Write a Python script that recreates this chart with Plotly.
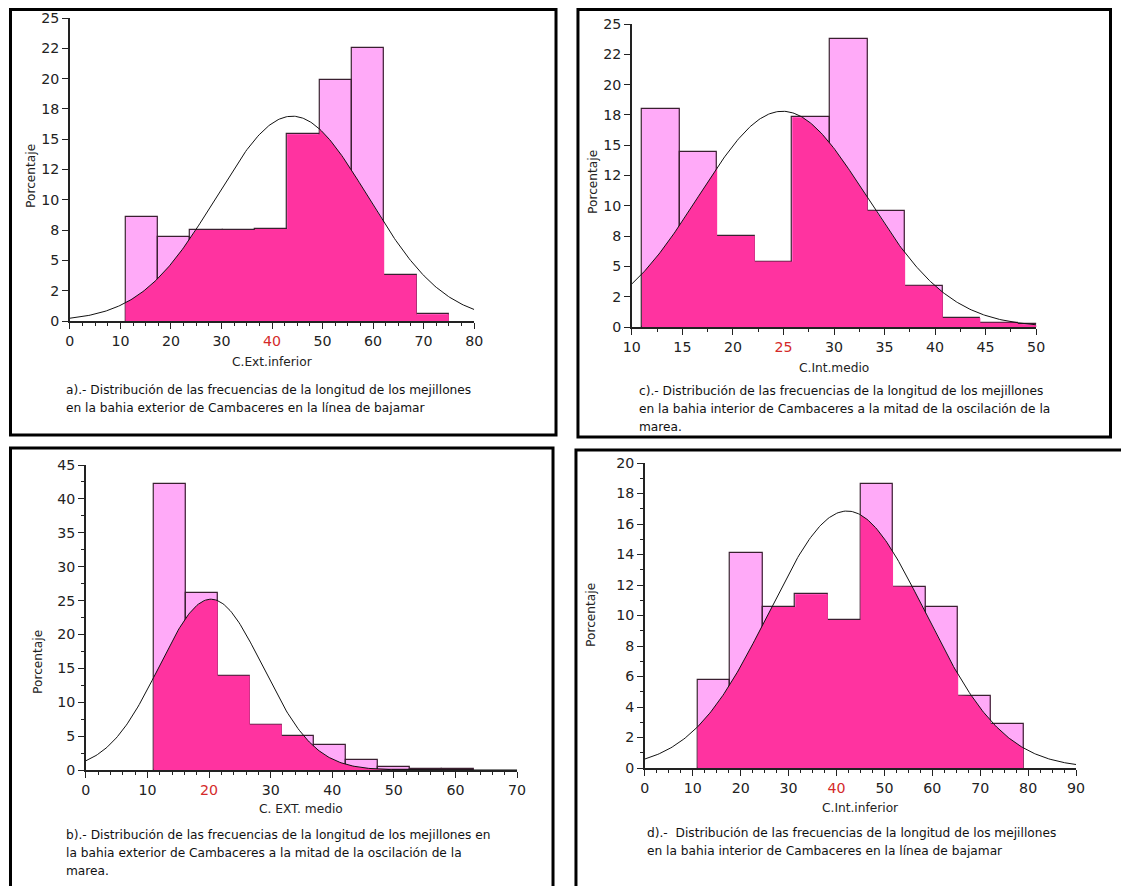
import numpy as np
import plotly.graph_objects as go

W, H = 1121, 886
# the photographed page shows the viewport inset by 8px and scaled by these factors
PAD = 8
SX, SY = (W - 2 * PAD) / W, (H - 2 * PAD) / H

# ---------------- data ----------------
# a) C.Ext.inferior
edges_a = [11, 17.4, 23.8, 30.2, 36.6, 43, 49.4, 55.8, 62.2, 68.6, 75]
pct_a = [8.6, 6.9, 7.5, 7.5, 7.6, 15.4, 19.9, 22.5, 3.8, 0.55]
curve_a = dict(mean=44.0, sd=15.0, peak=16.9)

# c) C.Int.medio
edges_c = [11, 14.72, 18.44, 22.16, 25.88, 29.6, 33.32, 37.04, 40.76, 44.48, 48.2, 51.92]
pct_c = [17.95, 14.4, 7.5, 5.4, 17.3, 23.8, 9.6, 3.4, 0.75, 0.35, 0.25]
curve_c = dict(mean=24.9, sd=8.3, peak=17.8)

# b) C. EXT. medio
edges_b = [11, 16.2, 21.4, 26.6, 31.8, 37, 42.2, 47.4, 52.6, 57.8, 63]
pct_b = [42.2, 26.1, 13.9, 6.7, 5.0, 3.7, 1.5, 0.4, 0.2, 0.2]
curve_b = dict(mean=20.3, sd=8.4, peak=25.2)

# d) C.Int.inferior
edges_d = [11, 17.8, 24.6, 31.4, 38.2, 45, 51.8, 58.6, 65.4, 72.2, 79]
pct_d = [5.8, 14.1, 10.55, 11.4, 9.7, 18.6, 11.9, 10.55, 4.75, 2.9]
curve_d = dict(mean=42.2, sd=16.3, peak=16.85)

x_titles = ["C.Ext.inferior", "C.Int.medio", "C. EXT. medio", "C.Int.inferior"]
y_title = "Porcentaje"
captions = [
    ["a).- Distribución de las frecuencias de la longitud de los mejillones",
     "en la bahia exterior de Cambaceres en la línea de bajamar"],
    ["c).- Distribución de las frecuencias de la longitud de los mejillones",
     "en la bahia interior de Cambaceres a la mitad de la oscilación de la",
     "marea."],
    ["b).- Distribución de las frecuencias de la longitud de los mejillones en",
     "la bahia exterior de Cambaceres a la mitad de la oscilación de la",
     "marea."],
    ["d).-  Distribución de las frecuencias de la longitud de los mejillones",
     "en la bahia interior de Cambaceres en la línea de bajamar"],
]
x_ranges = [[0, 80], [10, 50], [0, 70], [0, 90]]
x_dticks = [10, 5, 10, 10]
x_minor = [2.5, 2.5, 2, 2.5]
x_red = [40, 25, 20, 40]
y_ranges = [[0, 25], [0, 25], [0, 45], [0, 20]]
y_tickvals_25 = [0, 2.5, 5, 7.5, 10, 12.5, 15, 17.5, 20, 22.5, 25]
y_ticktext_25 = ["0", "2", "5", "8", "10", "12", "15", "18", "20", "22", "25"]

# ---------------- layout geometry (target picture pixels) ----------------
boxes = [  # x0, x1, ytop, ybottom
    (69, 474, 18, 321),
    (632, 1037, 24, 327),
    (85, 517, 465, 770),
    (645, 1077, 463, 768),
]
frames = [
    (9.5, 9.5, 556, 435),
    (578, 9.5, 1111.5, 437),
    (9.5, 448, 553, 900),
    (576, 450, 1140, 900),
]
xtitle_y = [362, 368, 809, 808]
cap_x = [63, 637, 63, 645]
cap_y = [390, 391, 835, 833]
cap_dy = 18
ytitle_x = [30, 593, 37, 591]
ytitle_y = [176, 182, 662, 615]

LIGHT = "#FFAAF8"
DARK = "#FF33A0"
EDGE = "#3a2030"
AX = "#222222"
FONT = "DejaVu Sans"


def fx(p):
    return ((p - PAD) / SX) / W


def fy(p):
    return 1 - ((p - PAD) / SY) / H


panels = [
    (edges_a, pct_a, curve_a),
    (edges_c, pct_c, curve_c),
    (edges_b, pct_b, curve_b),
    (edges_d, pct_d, curve_d),
]

fig = go.Figure()


def gauss(x, p):
    return p["peak"] * np.exp(-((x - p["mean"]) ** 2) / (2 * p["sd"] ** 2))


for i, (edges, pct, cp) in enumerate(panels):
    k = "" if i == 0 else str(i + 1)
    xa, ya = "x" + k, "y" + k
    edges = np.array(edges, float)
    pct = np.array(pct, float)
    lefts, rights = edges[:-1], edges[1:]
    centers = (lefts + rights) / 2
    widths = rights - lefts

    fig.add_trace(go.Bar(x=centers, y=pct, width=widths, marker=dict(color=LIGHT, line=dict(width=0)),
                         xaxis=xa, yaxis=ya, showlegend=False, hoverinfo="skip"))
    px, py = [], []
    for l, r, h in zip(lefts, rights, pct):
        xs = np.linspace(l, r, 40)
        ys = np.minimum(h, gauss(xs, cp))
        px += [l] + list(xs) + [r, l, None]
        py += [0] + list(ys) + [0, 0, None]
    fig.add_trace(go.Scatter(x=px, y=py, mode="lines", fill="toself", fillcolor=DARK,
                             line=dict(width=0, color=DARK), xaxis=xa, yaxis=ya,
                             showlegend=False, hoverinfo="skip"))
    fig.add_trace(go.Bar(x=centers, y=pct, width=widths,
                         marker=dict(color="rgba(0,0,0,0)", line=dict(width=1.2, color=EDGE)),
                         xaxis=xa, yaxis=ya, showlegend=False, hoverinfo="skip"))
    xr = x_ranges[i]
    xc = np.linspace(xr[0], xr[1], 300)
    fig.add_trace(go.Scatter(x=xc, y=gauss(xc, cp), mode="lines", line=dict(color="#111", width=1),
                             xaxis=xa, yaxis=ya, showlegend=False, hoverinfo="skip"))

layout = dict(
    width=W, height=H, autosize=False,
    margin=dict(l=0, r=0, t=0, b=0),
    paper_bgcolor="white", plot_bgcolor="white",
    barmode="overlay", bargap=0,
    font=dict(family=FONT, size=12, color=AX),
)

TF = 14.2
annotations = []
shapes = []
for i in range(4):
    k = "" if i == 0 else str(i + 1)
    x0, x1, yt, yb = boxes[i]
    xr = x_ranges[i]
    ticks = list(np.arange(xr[0], xr[1] + 0.001, x_dticks[i]))
    ttext = [('<span style="color:#d42a2a">%d</span>' % t) if t == x_red[i] else "%d" % t for t in ticks]
    layout["xaxis" + k] = dict(
        domain=[fx(x0), fx(x1)], range=xr, anchor="y" + k,
        showgrid=False, zeroline=False, showline=True, linecolor=AX, linewidth=1.6,
        ticks="outside", ticklen=6, tickwidth=1.3, tickcolor=AX,
        tickvals=ticks, ticktext=ttext, tickfont=dict(size=TF, family=FONT, color=AX),
        minor=dict(dtick=x_minor[i], tick0=xr[0], ticks="outside", ticklen=3, tickwidth=1.2, tickcolor=AX),
        fixedrange=True,
    )
    yr = y_ranges[i]
    yax = dict(
        domain=[fy(yb), fy(yt)], range=yr, anchor="x" + k,
        showgrid=False, zeroline=False, showline=True, linecolor=AX, linewidth=1.6,
        ticks="outside", ticklen=6, tickwidth=1.3, tickcolor=AX,
        tickfont=dict(size=TF, family=FONT, color=AX), fixedrange=True,
    )
    if yr[1] == 25:
        yax.update(tickvals=y_tickvals_25, ticktext=y_ticktext_25)
    elif yr[1] == 45:
        yax.update(tick0=0, dtick=5,
                   minor=dict(dtick=2.5, ticks="outside", ticklen=3, tickwidth=1.2, tickcolor=AX))
    else:
        yax.update(tick0=0, dtick=2,
                   minor=dict(dtick=1, ticks="outside", ticklen=3, tickwidth=1.2, tickcolor=AX))
    layout["yaxis" + k] = yax

    annotations.append(dict(text=x_titles[i], xref="paper", yref="paper",
                            x=fx((x0 + x1) / 2), y=fy(xtitle_y[i]), showarrow=False,
                            font=dict(size=12.2, family=FONT, color=AX), xanchor="center", yanchor="middle"))
    annotations.append(dict(text=y_title, xref="paper", yref="paper",
                            x=fx(ytitle_x[i]), y=fy(ytitle_y[i]), showarrow=False, textangle=-90,
                            font=dict(size=12.2, family=FONT, color=AX), xanchor="center", yanchor="middle"))
    for j, line in enumerate(captions[i]):
        annotations.append(dict(text=line, xref="paper", yref="paper",
                                x=fx(cap_x[i]), y=fy(cap_y[i] + j * cap_dy), showarrow=False,
                                align="left", font=dict(size=12.2, family=FONT, color="#111"),
                                xanchor="left", yanchor="middle"))
    f0, g0, f1, g1 = frames[i]
    shapes.append(dict(type="rect", xref="paper", yref="paper",
                       x0=fx(f0), x1=fx(f1), y0=fy(g1), y1=fy(g0),
                       line=dict(color="black", width=3), fillcolor="rgba(0,0,0,0)"))

layout["annotations"] = annotations
layout["shapes"] = shapes
fig.update_layout(**layout)
fig.write_html("out.html", config={"displayModeBar": False},
               post_script="document.body.style.margin='0';document.body.style.overflow='hidden';")
